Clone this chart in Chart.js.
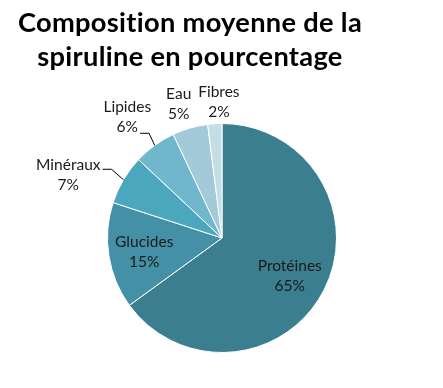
<!DOCTYPE html>
<html>
<head>
<meta charset="utf-8">
<script src="https://cdn.jsdelivr.net/npm/chart.js@4"></script>
<style>
  html, body { margin: 0; padding: 0; background: #fff; }
  #wrap { width: 443px; height: 388px; position: relative; }
</style>
</head>
<body>
<div id="wrap"><canvas id="chart" width="443" height="388"></canvas></div>
<script>
// donnees du graphique
const categories = ['Protéines', 'Glucides', 'Minéraux', 'Lipides', 'Eau', 'Fibres'];
const valeurs = [65, 15, 7, 6, 5, 2];
const etiquettes = ['65%', '15%', '7%', '6%', '5%', '2%'];
const titreLignes = ['Composition moyenne de la', 'spiruline en pourcentage'];

const couleurs = ['#3a7e8f', '#4490a6', '#4ba7bd', '#71b7cb', '#a2cad8', '#c4dee6'];

// position des etiquettes : distance au centre (fraction du rayon) et decalage d'angle (degres)
const distLabel = [0.68, 0.69, 1.45, 1.34, 1.23, 1.19];
const decalAngle = [2.5, -1.1, -8.4, -2.1, -1.7, 2.3];
const avecTrait = [false, false, true, true, false, false];

const FONT = 'Lato, "Liberation Sans", sans-serif';

const titrePlugin = {
    id: 'titre',
    afterDraw(chart) {
        const ctx = chart.ctx;
        ctx.save();
        // pas de ligature "ti"
        if ('letterSpacing' in ctx) ctx.letterSpacing = '0.3px';
        // taille ajustee pour la largeur du titre original
        let size = 28;
        ctx.font = 'bold ' + size + 'px ' + FONT;
        const w = ctx.measureText(titreLignes[0]).width;
        size = size * 344 / w;
        ctx.font = 'bold ' + size + 'px ' + FONT;
        ctx.fillStyle = '#000';
        ctx.textAlign = 'center';
        ctx.textBaseline = 'alphabetic';
        ctx.fillText(titreLignes[0], 190, 32);
        ctx.fillText(titreLignes[1], 190, 66);
        ctx.restore();
    }
};

const labelsPlugin = {
    id: 'etiquettes',
    afterDatasetsDraw(chart) {
        const ctx = chart.ctx;
        const meta = chart.getDatasetMeta(0);
        ctx.save();
        ctx.font = '15.5px ' + FONT;
        ctx.fillStyle = '#1a1a1a';
        ctx.textAlign = 'center';
        ctx.textBaseline = 'middle';
        meta.data.forEach(function (arc, i) {
            const p = arc.getProps(['x', 'y', 'startAngle', 'endAngle', 'outerRadius'], true);
            const mid = (p.startAngle + p.endAngle) / 2;
            const a = mid + decalAngle[i] * Math.PI / 180;
            const r = p.outerRadius * distLabel[i];
            const cx = p.x + Math.cos(a) * r;
            const cy = p.y + Math.sin(a) * r;
            ctx.fillText(categories[i], cx, cy - 10);
            ctx.fillText(etiquettes[i], cx, cy + 10);
            if (avecTrait[i]) {
                const ex = p.x + Math.cos(mid) * p.outerRadius;
                const ey = p.y + Math.sin(mid) * p.outerRadius;
                let lx, ly;
                if (i == 2) {
                    lx = cx + ctx.measureText(categories[i]).width / 2 + 2;
                    ly = cy - 6;
                } else {
                    lx = cx + ctx.measureText(etiquettes[i]).width / 2 + 2;
                    ly = cy + 16;
                }
                ctx.beginPath();
                ctx.strokeStyle = '#000';
                ctx.lineWidth = 1;
                ctx.moveTo(lx, ly);
                ctx.lineTo(lx + 9, ly);
                ctx.lineTo(ex, ey);
                ctx.stroke();
            }
        });
        ctx.restore();
    }
};

new Chart(document.getElementById('chart'), {
    type: 'pie',
    data: {
        labels: categories,
        datasets: [{
            data: valeurs,
            backgroundColor: couleurs,
            borderColor: '#ffffff',
            borderWidth: 1
        }]
    },
    options: {
        responsive: false,
        animation: false,
        layout: { padding: { top: 123, bottom: 35, left: 107, right: 106 } },
        plugins: {
            legend: { display: false },
            tooltip: { enabled: false },
            title: { display: false }
        }
    },
    plugins: [titrePlugin, labelsPlugin]
});
</script>
</body>
</html>
